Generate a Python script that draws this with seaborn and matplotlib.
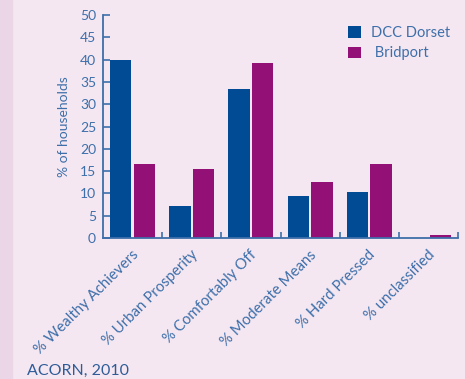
import matplotlib
matplotlib.use("Agg")
import matplotlib.pyplot as plt
import seaborn as sns
import pandas as pd
from matplotlib.patches import Patch

categories = ["% Wealthy Achievers", "% Urban Prosperity", "% Comfortably Off",
              "% Moderate Means", "% Hard Pressed", "% unclassified"]
dcc_dorset = [40.0, 7.2, 33.4, 9.4, 10.3, 0.1]
bridport = [16.6, 15.5, 39.2, 12.6, 16.6, 0.7]
series = ["DCC Dorset", "Bridport"]
y_ticks = list(range(0, 51, 5))

BG = "#F5E7F1"
STRIP = "#EBD6E8"
BLUE = "#004B93"
PURPLE = "#931177"
TEXT = "#3D6FAA"

sns.set_theme(style="white")
plt.rcParams["font.family"] = ["Lato", "DejaVu Sans"]

df = pd.DataFrame({
    "category": categories * 2,
    "value": dcc_dorset + bridport,
    "series": [series[0]] * len(categories) + [series[1]] * len(categories),
})

fig = plt.figure(figsize=(4.65, 3.79), dpi=100, facecolor=BG)
fig.patches.append(plt.Rectangle((0, 0), 12 / 465, 1, transform=fig.transFigure,
                                 color=STRIP, zorder=0))
ax = fig.add_axes([103 / 465, 1 - 238 / 379, 355 / 465, 223 / 379])
ax.set_facecolor(BG)

sns.barplot(data=df, x="category", y="value", hue="series",
            palette=[BLUE, PURPLE], saturation=1, width=0.8, gap=0.1, ax=ax,
            linewidth=0, legend=False)

ax.set_xlim(-0.5, len(categories) - 0.5)
ax.set_ylim(0, 50)
ax.set_yticks(y_ticks)
ax.set_yticklabels([str(t) for t in y_ticks], fontsize=10, color=TEXT)
ax.tick_params(axis="y", direction="in", length=5, width=1.2, color=TEXT, pad=5, left=True)

# group boundaries carry the x ticks; category names sit on the group centres
ax.set_xticks([i + 0.5 for i in range(len(categories))])
ax.set_xticklabels([])
ax.tick_params(axis="x", direction="in", length=4, width=1.2, color=TEXT, bottom=True)
for i, name in enumerate(categories):
    ax.text(i - 0.02, -2.2, name, rotation=45, ha="right", va="top",
            rotation_mode="anchor", fontsize=10.8, color=TEXT)

for side in ["top", "right"]:
    ax.spines[side].set_visible(False)
for side in ["left", "bottom"]:
    ax.spines[side].set_color(TEXT)
    ax.spines[side].set_linewidth(1.3)

ax.set_xlabel("")
ax.set_ylabel("% of households", fontsize=10, color=TEXT, labelpad=7)

handles = [Patch(facecolor=BLUE, edgecolor="none", label=series[0]),
           Patch(facecolor=PURPLE, edgecolor="none", label=" " + series[1])]
ax.legend(handles=handles, loc="upper right", bbox_to_anchor=(1.015, 1.01),
          frameon=False, fontsize=10.5, labelcolor=TEXT, handlelength=0.85,
          handleheight=0.85, handletextpad=0.7, labelspacing=0.45)

fig.text(27 / 465, 1 - 371 / 379, "ACORN, 2010", fontsize=11.5, color="#2E5C98",
         ha="left", va="center")

fig.savefig("out.png", dpi=100, facecolor=BG)
